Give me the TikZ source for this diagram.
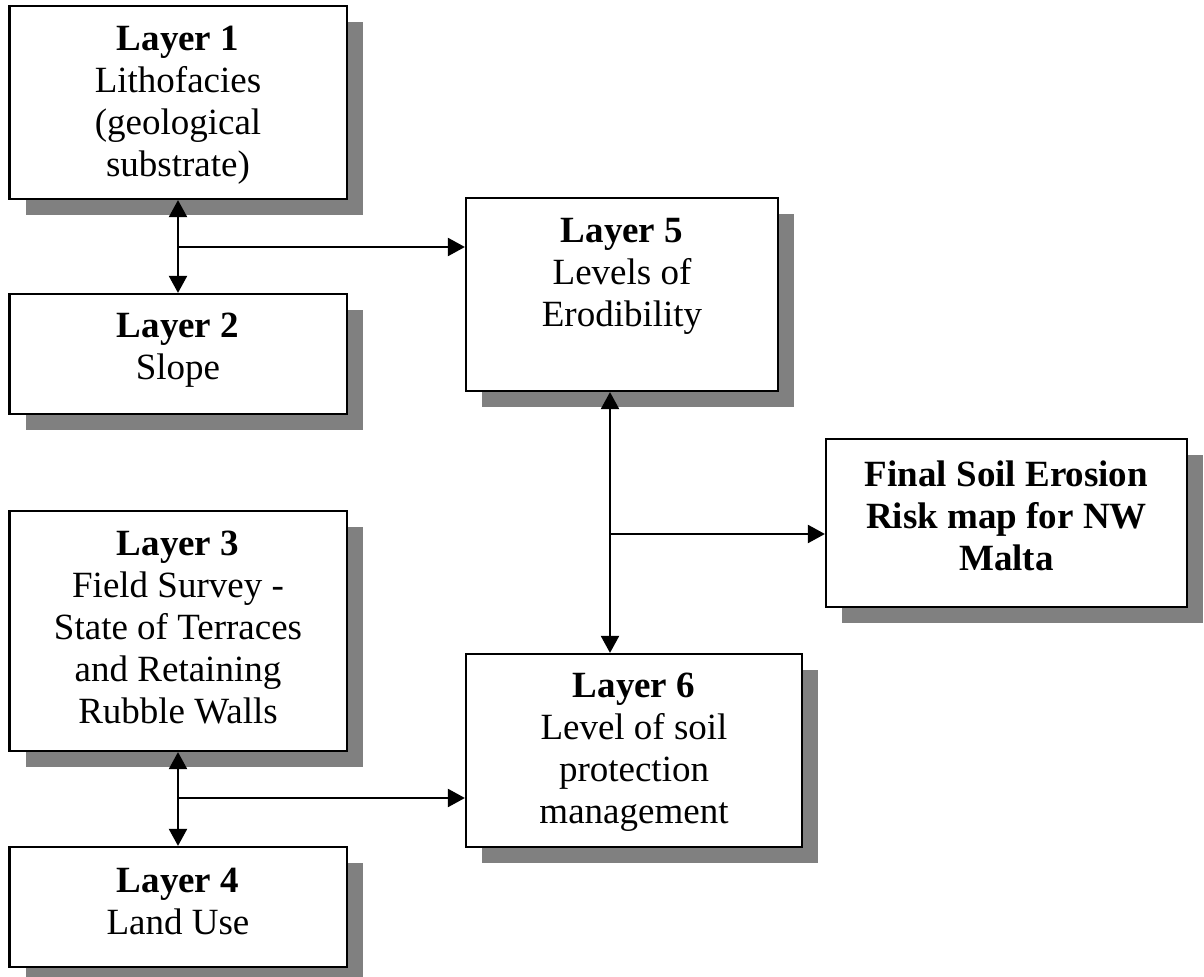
\documentclass[tikz,border=0pt]{standalone}
\usepackage{fontspec}
\setmainfont{Liberation Serif}
\usetikzlibrary{arrows.meta,shadows,calc}
\definecolor{shgray}{HTML}{808080}
\tikzset{
  box/.style={draw=black, line width=1.1pt, fill=white, rectangle, inner sep=0pt,
    general shadow={fill=shgray, draw=none, shadow xshift=8pt, shadow yshift=-8pt}},
  txt/.style={align=center, inner sep=0pt, font=\fontsize{18.5}{21}\selectfont},
  tip/.tip={Triangle[length=8.5pt,width=9pt]},
  conn/.style={line width=1.1pt, -tip},
  bconn/.style={line width=1.1pt, tip-tip},
}
\begin{document}
\begin{tikzpicture}[x=0.5pt,y=-0.5pt]
\useasboundingbox[fill=white] (0,0) rectangle (1204,977);

% boxes
\node[box, minimum width=168.75pt, minimum height=96.5pt] (b1) at (178.25,102.5) {};
\node[box, minimum width=168.75pt, minimum height=60pt]   (b2) at (178.25,354) {};
\node[box, minimum width=168.75pt, minimum height=120pt]  (b3) at (178.25,631) {};
\node[box, minimum width=168.75pt, minimum height=60pt]   (b4) at (178.25,907) {};
\node[box, minimum width=156pt,    minimum height=96.5pt] (b5) at (622,294.5) {};
\node[box, minimum width=168pt,    minimum height=96.5pt] (b6) at (634,750.5) {};
\node[box, minimum width=180.5pt,  minimum height=84pt]   (fin) at (1006.5,523) {};

% texts
\node[txt] (t1) at (178,105) {\textbf{Layer 1}\\Lithofacies\\(geological\\substrate)};
\node[txt] (t2) at (178,350) {\textbf{Layer 2}\\Slope};
\node[txt] (t3) at (178,627.5) {\textbf{Layer 3}\\Field Survey -\\State of Terraces\\and Retaining\\Rubble Walls};
\node[txt] (t4) at (178,901.5) {\textbf{Layer 4}\\Land Use};
\node[txt] (t5) at (622,276.5) {\textbf{Layer 5}\\Levels of\\Erodibility};
\node[txt] (t6) at (634,752.5) {\textbf{Layer 6}\\Level of soil\\protection\\management};
\node[txt, font=\fontsize{18.5}{21}\selectfont\bfseries] (tf) at (1006.5,516) {Final Soil Erosion\\Risk map for NW\\Malta};

% connectors
\coordinate (j1) at (178,247);
\coordinate (j2) at (178,798);
\coordinate (j3) at (610,534);

\draw[bconn] (b1.south -| j1) -- (b2.north -| j1);
\draw[conn] (j1) -- (j1 -| b5.west);
\draw[bconn] (b3.south -| j2) -- (b4.north -| j2);
\draw[conn] (j2) -- (j2 -| b6.west);
\draw[bconn] (b5.south -| j3) -- (b6.north -| j3);
\draw[conn] (j3) -- (j3 -| fin.west);
\end{tikzpicture}
\end{document}
